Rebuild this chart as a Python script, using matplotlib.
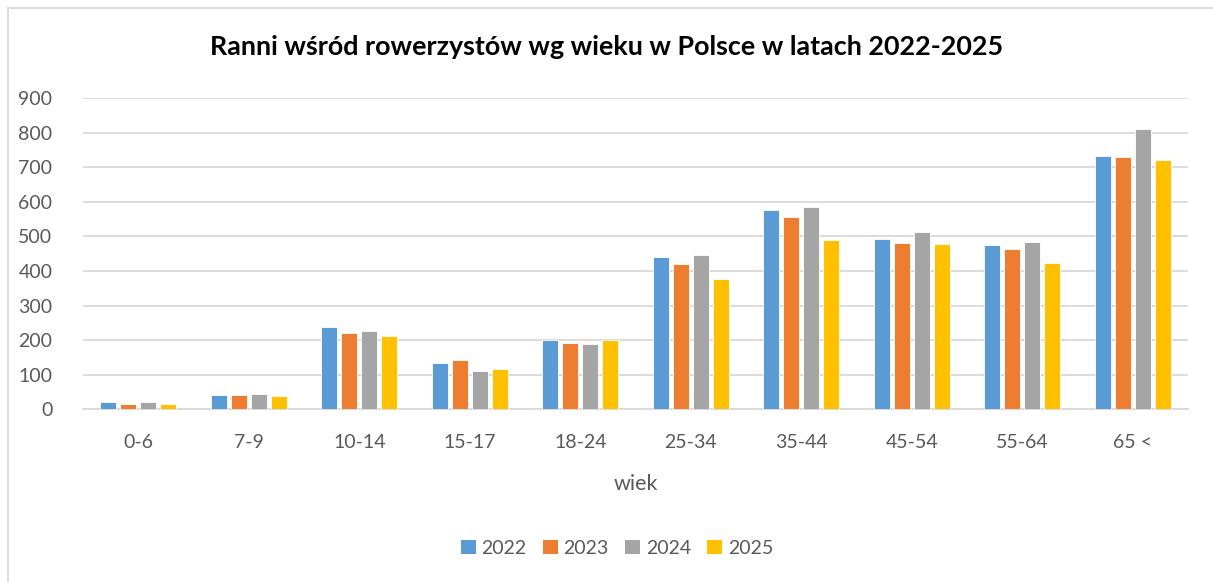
import matplotlib
matplotlib.use("Agg")
import matplotlib.pyplot as plt
import numpy as np
from matplotlib.lines import Line2D
from matplotlib.patches import Patch

categories = ["0-6", "7-9", "10-14", "15-17", "18-24", "25-34", "35-44", "45-54", "55-64", "65 <"]
years = ["2022", "2023", "2024", "2025"]
v2022 = [21, 41, 239, 133, 200, 439, 575, 492, 476, 731]
v2023 = [15, 41, 221, 143, 193, 419, 556, 480, 462, 728]
v2024 = [20, 43, 227, 110, 189, 446, 586, 512, 483, 809]
v2025 = [15, 38, 211, 117, 200, 378, 489, 477, 423, 720]
series = [v2022, v2023, v2024, v2025]
colors = ["#5B9BD5", "#ED7D31", "#A5A5A5", "#FFC000"]

plt.rcParams['font.family'] = ['Lato', 'DejaVu Sans']

W, H = 1213, 582
fig = plt.figure(figsize=(W / 100, H / 100), dpi=100)
ax = fig.add_axes([83 / W, 1 - 409.3 / H, (1188 - 83) / W, (409.3 - 98) / H])

x = np.arange(len(categories))
pitch = 20 / 110.5
bw = 16 / 110.5
for i, (vals, c, y) in enumerate(zip(series, colors, years)):
    ax.bar(x + (i - 1.5) * pitch, vals, width=bw, color=c, label=y,
           edgecolor="white", linewidth=0.6, zorder=3)

ax.set_xlim(-0.5, len(categories) - 0.5)
ax.set_ylim(0, 900)
ax.set_yticks(range(0, 901, 100))
ax.yaxis.grid(True, color="#D9D9D9", linewidth=1.3, zorder=0)
ax.set_axisbelow(True)
for s in ["top", "right", "left"]:
    ax.spines[s].set_visible(False)
ax.spines["bottom"].set_color("#D9D9D9")
ax.spines["bottom"].set_linewidth(1.3)
ax.tick_params(axis="both", length=0, colors="#595959", labelsize=14)
ax.tick_params(axis="y", pad=22)
ax.tick_params(axis="x", pad=18)
ax.set_xticks(x)
ax.set_xticklabels(categories)
ax.set_xlabel("wiek", fontsize=15.5, color="#595959", labelpad=16)

fig.text(0.5, 1 - 47 / H, "Ranni wśród rowerzystów wg wieku w Polsce w latach 2022-2025",
         ha="center", va="center", fontsize=19.4, fontweight="bold", color="black")

handles = [Patch(facecolor=c, edgecolor="none") for c in colors]
fig.legend(handles, years, loc="center", bbox_to_anchor=(617 / W, 1 - 548 / H), ncol=4,
           frameon=False, fontsize=14, handlelength=0.75, handleheight=0.75,
           handletextpad=0.3, columnspacing=0.85, labelcolor="#595959")

# chart border (top and left visible)
fig.add_artist(Line2D([8 / W, 1], [1 - 8 / H, 1 - 8 / H], color="#D9D9D9", linewidth=1.3,
                      transform=fig.transFigure))
fig.add_artist(Line2D([8 / W, 8 / W], [0, 1 - 8 / H], color="#D9D9D9", linewidth=1.3,
                      transform=fig.transFigure))

fig.savefig("out.png", dpi=100)
